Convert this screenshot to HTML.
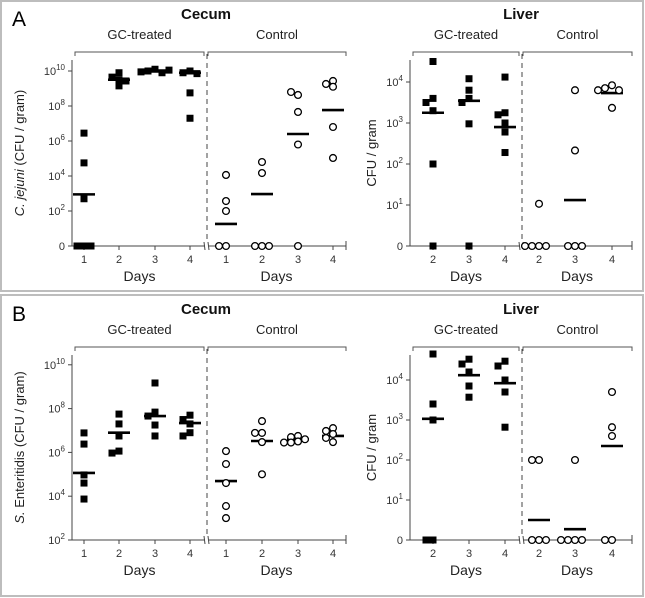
<!DOCTYPE html>
<html><head><meta charset="utf-8"><style>
html,body{margin:0;padding:0;background:#fff}
svg{display:block;font-family:"Liberation Sans",Arial,sans-serif}
</style></head><body>
<svg id="fig" width="645" height="598" viewBox="0 0 645 598">
<rect x="1" y="1" width="642" height="290" fill="none" stroke="#bdbdbd" stroke-width="2"/>
<rect x="1" y="295" width="642" height="301" fill="none" stroke="#bdbdbd" stroke-width="2"/>
<text x="12" y="26" font-size="21">A</text>
<text x="12" y="321" font-size="21">B</text>
</svg>
<script>
// values are log10(CFU/gram); 0 means "0" (not detected)
const dayLabelsCecum = ["1","2","3","4"];
const dayLabelsLiver = ["2","3","4"];
// A cecum
const aCecumGC = [[0,0,0,2.7,4.75,6.45],[9.9,9.65,9.5,9.43,9.15],[10.1,10.0,9.9,9.95,10.05],[10.0,9.9,9.85,8.75,7.3]];
const aCecumGCMed = [2.95,9.5,10.0,9.9];
const aCecumCt = [[0,0,2.0,2.57,4.06],[0,0,0,4.17,4.8],[0,5.8,7.66,8.63,8.8],[9.43,9.26,9.1,6.8,5.03]];
const aCecumCtMed = [1.26,2.97,6.4,7.77];
// A liver
const aLiverGC = [[4.5,3.6,3.5,3.3,2.0,0],[4.08,3.8,3.6,3.5,2.98,0],[4.12,3.25,3.2,3.0,2.78,2.28]];
const aLiverGCMed = [3.25,3.54,2.9];
const aLiverCt = [[1.03,0,0,0,0],[3.8,2.33,0,0,0],[3.92,3.85,3.8,3.8,3.37]];
const aLiverCtMed = [null,1.12,3.73];
// B cecum
const bCecumGC = [[6.89,6.38,4.97,4.6,3.87],[7.75,7.3,6.75,6.06,5.97],[9.17,7.84,7.66,7.25,6.75],[7.7,7.5,7.3,6.9,6.75]];
const bCecumGCMed = [5.06,6.9,7.66,7.34];
const bCecumCt = [[6.06,5.47,4.6,3.55,3.0],[7.43,6.89,6.89,6.47,5.0],[6.75,6.7,6.6,6.5,6.45,6.45],[7.11,6.98,6.84,6.66,6.47]];
const bCecumCtMed = [4.69,6.52,6.6,6.75];
// B liver
const bLiverGC = [[4.65,3.4,3.0,0,0],[4.52,4.4,4.2,3.85,3.57],[4.47,4.35,4.0,3.7,2.82]];
const bLiverGCMed = [3.03,4.12,3.92];
const bLiverCt = [[2.0,2.0,0,0,0],[2.0,0,0,0,0],[3.7,2.82,2.6,0,0]];
const bLiverCtMed = [0.5,0.27,2.35];
// tick exponents
const cecumTicksA = [0,2,4,6,8,10];
const liverTicks = [0,1,2,3,4];
const cecumTicksB = [2,4,6,8,10];

const svg = document.getElementById('fig');
const NS = 'http://www.w3.org/2000/svg';
function mk(tag, attrs, parent){
  const e = document.createElementNS(NS, tag);
  for (const k in attrs) e.setAttribute(k, attrs[k]);
  (parent||svg).appendChild(e);
  return e;
}

function panel(p){
  const g = mk('g', {});
  
  
  const y = v => p.y0 - (v - p.ymin) * p.dec;
  const t = mk('text', {x:p.titleX, y:p.top-33, 'font-size':15, 'font-weight':'bold', 'text-anchor':'middle', fill:'#111'}, g);
  t.textContent = p.title;
  
  
  const groups = [['GC-treated', p.axX+3, p.dashX-3], ['Control', p.dashX+1, p.xEnd]];
  groups.forEach(gr => {
    const lb = mk('text', {x:(gr[1]+gr[2])/2, y:p.top-13, 'font-size':13, 'text-anchor':'middle', fill:'#222'}, g);
    lb.textContent = gr[0];
    
    
    const br = mk('path', {d:`M${gr[1]},${p.top+4}V${p.top}H${gr[2]}V${p.top+4}`, fill:'none', stroke:'#555', 'stroke-width':1}, g);
    
    
  });
  const ya = mk('line', {x1:p.axX, y1:p.top+8, x2:p.axX, y2:p.y0, stroke:'#444', 'stroke-width':1}, g);
  
  
  p.ticks.forEach(tv => {
    mk('line', {x1:p.axX-4, y1:y(tv), x2:p.axX, y2:y(tv), stroke:'#444'}, g);
    const tl = mk('text', {x:p.axX-7, y:y(tv)+4, 'font-size':11, 'text-anchor':'end', fill:'#333'}, g);
    
    
    if (tv === 0 && p.zero) { tl.textContent = '0'; }
    else {
      const a = mk('tspan', {}, tl); a.textContent = '10';
      const b = mk('tspan', {dy:-5, 'font-size':8}, tl); b.textContent = String(tv);
    }
  });
  const yt = mk('text', {transform:`translate(${p.ytX},${(p.top+p.y0)/2+4}) rotate(-90)`, 'font-size':13, 'text-anchor':'middle', fill:'#222'}, g);
  
  
  p.ytitle.forEach(s => { const ts = mk('tspan', s[1]?{'font-style':'italic'}:{}, yt); ts.textContent = s[0]; });
  const xa = mk('path', {d:`M${p.axX},${p.y0}H${p.dashX-2}M${p.dashX+2},${p.y0}H${p.xEnd}`, stroke:'#444', fill:'none'}, g);
  
  
  mk('path', {d:`M${p.dashX-3},${p.y0-4}l1,8M${p.dashX+1},${p.y0-4}l1,8M${p.xEnd},${p.y0-5}V${p.y0+4}`, stroke:'#444', fill:'none'}, g);
  const ds = mk('line', {x1:p.dashX, y1:p.top+2, x2:p.dashX, y2:p.y0-4, stroke:'#444', 'stroke-dasharray':'5,4'}, g);
  
  
  [[p.axX, p.dashX],[p.dashX, p.xEnd]].forEach(r => {
    const dl = mk('text', {x:(r[0]+r[1])/2, y:p.y0+35, 'font-size':14, 'text-anchor':'middle', fill:'#222'}, g);
    dl.textContent = 'Days';
    
    
  });
  [[p.gc, p.gcMed, p.gcX, 'sq'], [p.ct, p.ctMed, p.ctX, 'ci']].forEach(([data, med, xs, shape]) => {
    data.forEach((vals, i) => {
      const cx = xs[i];
      mk('line', {x1:cx, y1:p.y0, x2:cx, y2:p.y0+4, stroke:'#444'}, g);
      const tk = mk('text', {x:cx, y:p.y0+17, 'font-size':11, 'text-anchor':'middle', fill:'#333'}, g);
      tk.textContent = p.days[i];
      
      
      if (med[i] !== null) {
        const ml = mk('line', {x1:cx-11, y1:y(med[i]), x2:cx+11, y2:y(med[i]), stroke:'#000', 'stroke-width':2.6}, g);
        
        
      }
      const placed = [];
      const cands = [0,-7,7,-14,14];
      vals.forEach(v => {
        const py = y(v);
        let off = 0;
        for (const c of cands) {
          if (!placed.some(q => Math.hypot(q[0]-c, q[1]-py) < 5)) { off = c; break; }
        }
        placed.push([off, py]);
        let m;
        if (shape === 'sq') m = mk('rect', {x:cx+off-3.5, y:py-3.5, width:7, height:7, fill:'#000'}, g);
        else m = mk('circle', {cx:cx+off, cy:py, r:3.4, fill:'#fff', stroke:'#000', 'stroke-width':1.3}, g);
        
        
      });
    });
  });
}

const cecX1 = [84,119,155,190], cecX2 = [226,262,298,333];
const livX1 = [433,469,505], livX2 = [539,575,612];
panel({name:'panel-a-cecum', title:'Cecum', titleX:206, top:52, y0:246, ymin:0, dec:17.5, zero:true, axX:72, dashX:207, xEnd:346,
  ticks:cecumTicksA, ytX:24, ytitle:[['C. jejuni',true],[' (CFU / gram)',false]], days:dayLabelsCecum,
  gc:aCecumGC, gcMed:aCecumGCMed, ct:aCecumCt, ctMed:aCecumCtMed, gcX:cecX1, ctX:cecX2});
panel({name:'panel-a-liver', title:'Liver', titleX:521, top:52, y0:246, ymin:0, dec:41, zero:true, axX:410, dashX:522, xEnd:632,
  ticks:liverTicks, ytX:376, ytitle:[['CFU / gram',false]], days:dayLabelsLiver,
  gc:aLiverGC, gcMed:aLiverGCMed, ct:aLiverCt, ctMed:aLiverCtMed, gcX:livX1, ctX:livX2});
panel({name:'panel-b-cecum', title:'Cecum', titleX:206, top:347, y0:540, ymin:2, dec:21.9, zero:false, axX:72, dashX:207, xEnd:346,
  ticks:cecumTicksB, ytX:24, ytitle:[['S.',true],[' Enteritidis (CFU / gram)',false]], days:dayLabelsCecum,
  gc:bCecumGC, gcMed:bCecumGCMed, ct:bCecumCt, ctMed:bCecumCtMed, gcX:cecX1, ctX:cecX2});
panel({name:'panel-b-liver', title:'Liver', titleX:521, top:347, y0:540, ymin:0, dec:40, zero:true, axX:410, dashX:522, xEnd:632,
  ticks:liverTicks, ytX:376, ytitle:[['CFU / gram',false]], days:dayLabelsLiver,
  gc:bLiverGC, gcMed:bLiverGCMed, ct:bLiverCt, ctMed:bLiverCtMed, gcX:livX1, ctX:livX2});
</script>
</body></html>
